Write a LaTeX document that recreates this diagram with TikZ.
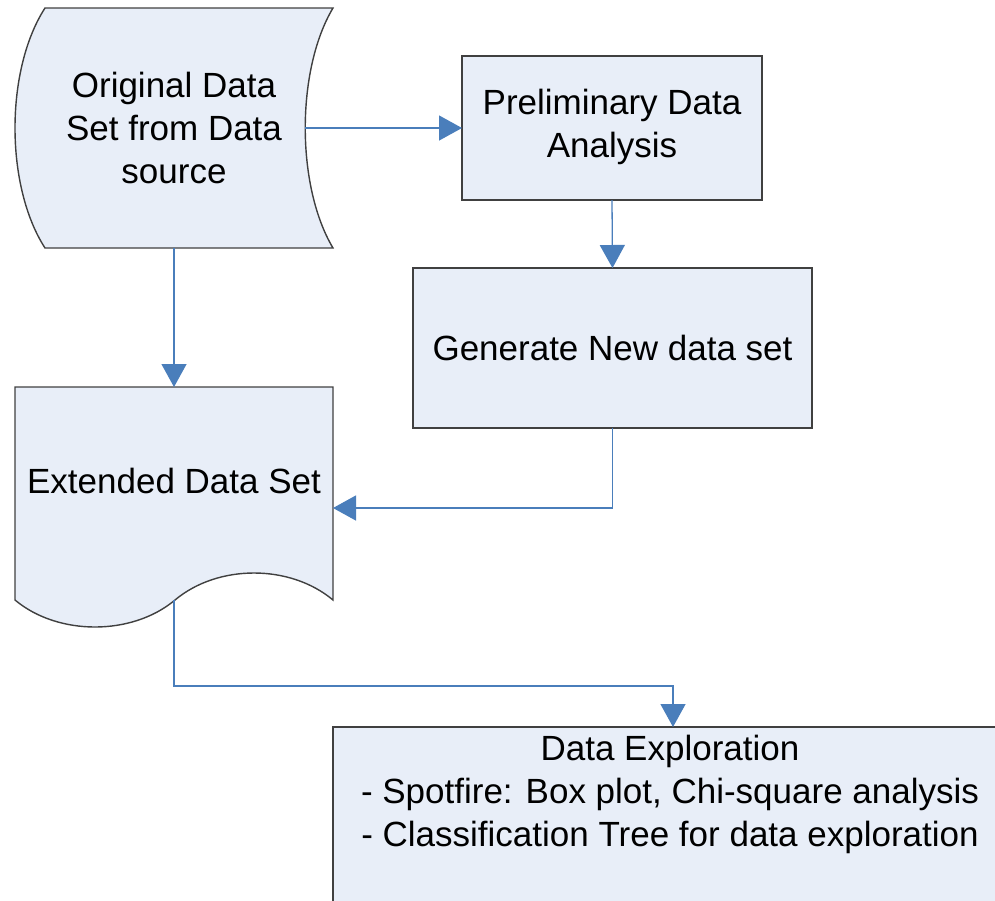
\documentclass[tikz,border=0pt]{standalone}
\usepackage{fontspec}
\setmainfont{Liberation Sans}
\usetikzlibrary{arrows.meta}
\definecolor{boxfill}{HTML}{E8EEF8}
\definecolor{boxline}{HTML}{404040}
\definecolor{conn}{HTML}{4A7EBB}
\tikzset{
  shapebox/.style={draw=boxline, fill=boxfill, line width=1.4pt},
  holder/.style={inner sep=0pt, outer sep=0pt, rectangle},
  label/.style={font=\fontsize{35}{43}\selectfont, align=center, inner sep=0pt},
  arr/.style={draw=conn, line width=1.3pt, -{Triangle[length=23pt,width=25pt]}, shorten >=0pt},
}
\begin{document}
\begin{tikzpicture}[x=1pt,y=-1pt]
\useasboundingbox (0,0) rectangle (995,900);
\clip (0,0) rectangle (995,900);
% Original data set (stored data shape)
\path[shapebox] (45,8) -- (333,8) .. controls (296,70) and (296,186) .. (333,248)
  -- (45,248) .. controls (5,186) and (5,70) .. (45,8) -- cycle;
\node[holder, minimum width=318pt, minimum height=240pt] (orig) at (174,128) {};
\node[label] (origtext) at (174,128) {Original Data\\Set from Data\\source};
\coordinate (origR) at (305,128);
% Preliminary data analysis
\node[shapebox, holder, minimum width=300pt, minimum height=144pt] (prelim) at (612,128) {};
\node[label] (prelimtext) at (612,127) {Preliminary Data\\Analysis};
% Generate new data set
\node[shapebox, holder, minimum width=399pt, minimum height=160pt] (gen) at (612.5,348) {};
\node[label] (gentext) at (612.5,348) {Generate New data set};
% Extended data set (document shape)
\path[shapebox] (15,387) -- (333,387) -- (333,600)
  .. controls (290,564) and (218,564) .. (175,600)
  .. controls (132,636) and (58,636) .. (15,600) -- cycle;
\node[holder, minimum width=318pt, minimum height=213pt] (ext) at (174,493.5) {};
\node[label] (exttext) at (174,481) {Extended Data Set};
\coordinate (extR) at (333,508);
% Data exploration
\node[shapebox, holder, minimum width=680pt, minimum height=180pt] (explore) at (673,817) {};
\node[label] (exploretext) at (670,794) {Data Exploration\\- Spotfire: Box plot, Chi-square analysis\\- Classification Tree for data exploration};
% connectors
\draw[arr] (origR) -- (prelim.west);
\draw[arr] (prelim.south) -- (gen.north);
\draw[arr] (orig.south) -- (ext.north);
\draw[arr] (gen.south) |- (extR);
\draw[arr] (ext.south) -- ++(0,86) -| (explore.north);
\end{tikzpicture}
\end{document}
